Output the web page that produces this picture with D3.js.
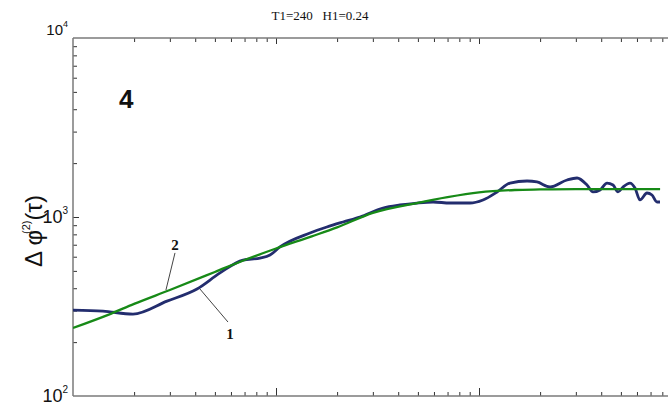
<!DOCTYPE html>
<html>
<head>
<meta charset="utf-8">
<script src="https://cdn.jsdelivr.net/npm/d3@7"></script>
<style>
  body { margin: 0; background: #fff; }
  svg { display: block; }
</style>
</head>
<body>
<script>
//=== Data ===
const title = "T1=240   H1=0.24"
const panelLabel = "4"

// curve 1 (measured)
const tauMeas = [1.0, 1.405, 1.975, 2.905, 4.08, 5.30, 6.88, 8.34, 9.34, 10.46, 14.7, 17.8, 21.4, 25.9, 33.7, 40.8, 49.5, 59.4, 72.0, 90.3, 104.6, 122.7, 142.2, 172.4, 193.1, 223.8, 271.4, 304, 340.4, 364.4, 394.7, 427.2, 457.3, 483.9, 512.1, 554.4, 586.8, 621.1, 672.3, 711.5, 753.1, 779.1]
const phiMeas = [302, 298, 287, 339, 396, 487, 575, 590, 613, 680, 814, 879, 938, 1000, 1123, 1167, 1197, 1213, 1197, 1197, 1245, 1380, 1548, 1589, 1569, 1471, 1610, 1652, 1510, 1380, 1416, 1548, 1510, 1380, 1471, 1548, 1452, 1245, 1362, 1327, 1213, 1213]

// curve 2 (fit)
const tauFit = [1, 1.5, 2, 3, 5, 7, 10, 15, 20, 30, 50, 70, 100, 150, 200, 300, 500, 780]
const phiFit = [240, 285, 327, 391, 493, 575, 667, 780, 875, 1055, 1200, 1290, 1371, 1415, 1425, 1433, 1433, 1433]

const xDecades = [1, 10, 100]
const yDecades = [100, 1000, 10000]
const yTickLabels = ["2", "3", "4"]   // exponents for 10^2, 10^3, 10^4

// callouts: tip on curve, end of leader, text position (data units)
const callouts = [
  { label: "2", tip: [2.87, 391], end: [3.18, 630], text: [3.18, 654] },
  { label: "1", tip: [4.22, 396], end: [5.80, 259], text: [5.93, 208] }
]

//=== Setup ===
const W = 668, H = 406
const svg = d3.select("body").append("svg")
  .attr("width", W)
  .attr("height", H)

const x = d3.scaleLog().domain([1, 1000]).range([73, 682])
const y = d3.scaleLog().domain([100, 10000]).range([396, 38])

const plotLeft = x.range()[0], plotTop = y.range()[1], plotBottom = y.range()[0]

svg.append("defs").append("clipPath").attr("id", "plot")
  .append("rect")
  .attr("x", plotLeft).attr("y", plotTop)
  .attr("width", W - plotLeft).attr("height", plotBottom - plotTop)

// minor tick values
const xMinor = []
xDecades.forEach(d => { for (let k = 2; k <= 9; k++) xMinor.push(d * k) })
const yMinor = []
yDecades.slice(0, 2).forEach(d => { for (let k = 2; k <= 9; k++) yMinor.push(d * k) })

// ticks (inside pointing)
function tickGroup(axis, transform) {
  const g = svg.append("g").attr("transform", transform).call(axis)
  g.select(".domain").remove()
  g.selectAll(".tick line").attr("stroke", "#333").attr("stroke-width", 1)
  g.selectAll(".tick text").remove()
  return g
}
tickGroup(d3.axisBottom(x).tickValues(xMinor).tickSize(-4), `translate(0,${plotBottom})`)
tickGroup(d3.axisBottom(x).tickValues(xDecades.slice(1)).tickSize(-8), `translate(0,${plotBottom})`)
tickGroup(d3.axisTop(x).tickValues(xMinor).tickSize(-4), `translate(0,${plotTop})`)
tickGroup(d3.axisTop(x).tickValues(xDecades.slice(1)).tickSize(-6), `translate(0,${plotTop})`)
tickGroup(d3.axisLeft(y).tickValues(yMinor).tickSize(-4), `translate(${plotLeft},0)`)
tickGroup(d3.axisLeft(y).tickValues([1000]).tickSize(-6), `translate(${plotLeft},0)`)

// frame lines
const frame = svg.append("g").attr("stroke", "#7a7a7a").attr("stroke-width", 1.5)
frame.append("line").attr("x1", plotLeft).attr("x2", W).attr("y1", plotBottom).attr("y2", plotBottom)
frame.append("line").attr("x1", plotLeft).attr("x2", W).attr("y1", plotTop).attr("y2", plotTop)
frame.append("line").attr("x1", plotLeft).attr("x2", plotLeft).attr("y1", plotTop).attr("y2", plotBottom)

// y tick labels 10^n
yDecades.forEach((d, i) => {
  const big = d !== 10000
  const t = svg.append("text")
    .attr("x", plotLeft - 5)
    .attr("y", d === 10000 ? y(d) - 3 : y(d) + 6)
    .attr("text-anchor", "end")
    .attr("font-family", "Liberation Sans, Arial, sans-serif")
    .attr("font-size", big ? 18 : 15)
    .attr("fill", "#111")
  t.append("tspan").text("10")
  t.append("tspan").attr("dy", big ? -9 : -8).attr("font-size", big ? 10 : 9).text(yTickLabels[i])
})

// y axis title
const yt = svg.append("text")
  .attr("transform", "translate(42,231) rotate(-90)")
  .attr("text-anchor", "middle")
  .attr("font-family", "Liberation Sans, Arial, sans-serif")
  .attr("font-size", 24)
  .attr("fill", "#111")
yt.append("tspan").text("\u0394 \u03c6")
yt.append("tspan").attr("dx", -4).attr("dy", -12).attr("font-size", 11).text("(2)")
yt.append("tspan").attr("dy", 12).text("(\u03c4)")

// title
svg.append("text")
  .attr("x", 320).attr("y", 20)
  .attr("text-anchor", "middle")
  .attr("font-family", "Liberation Serif, Times New Roman, serif")
  .attr("font-size", 13)
  .style("white-space", "pre")
  .attr("fill", "#111")
  .text(title)

// panel number
svg.append("text")
  .attr("x", x(1.685)).attr("y", y(4064))
  .attr("font-family", "Liberation Sans, Arial, sans-serif")
  .attr("font-weight", "bold")
  .attr("font-size", 26)
  .attr("fill", "#111")
  .text(panelLabel)

//=== Curves ===
const line = d3.line().x(d => x(d[0])).y(d => y(d[1])).curve(d3.curveMonotoneX)
const plot = svg.append("g").attr("clip-path", "url(#plot)")

plot.append("path")
  .datum(tauMeas.map((t, i) => [t, phiMeas[i]]))
  .attr("d", line)
  .attr("fill", "none")
  .attr("stroke", "#232d6e")
  .attr("stroke-width", 2.8)
  .attr("stroke-linejoin", "round")

plot.append("path")
  .datum(tauFit.map((t, i) => [t, phiFit[i]]))
  .attr("d", line)
  .attr("fill", "none")
  .attr("stroke", "#178a17")
  .attr("stroke-width", 2.3)

// callouts
const co = svg.append("g")
co.selectAll("line")
  .data(callouts)
  .join("line")
  .attr("x1", d => x(d.tip[0])).attr("y1", d => y(d.tip[1]))
  .attr("x2", d => x(d.end[0])).attr("y2", d => y(d.end[1]))
  .attr("stroke", "#444")
  .attr("stroke-width", 1)
co.selectAll("text")
  .data(callouts)
  .join("text")
  .attr("x", d => x(d.text[0])).attr("y", d => y(d.text[1]))
  .attr("text-anchor", "middle")
  .attr("font-family", "Liberation Serif, Times New Roman, serif")
  .attr("font-weight", "bold")
  .attr("font-size", 15)
  .attr("fill", "#111")
  .text(d => d.label)
</script>
</body>
</html>
